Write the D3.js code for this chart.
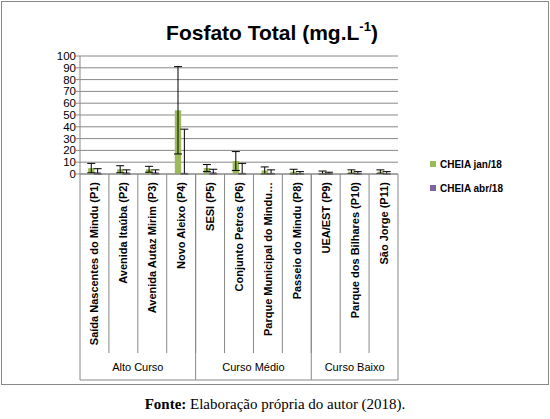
<!DOCTYPE html><html><head><script src="https://cdn.jsdelivr.net/npm/d3@7"></script>
<style>body{margin:0;background:#fff}</style></head><body><svg id="c" width="550" height="419"></svg>
<script>
const categories=["Saída Nascentes do Mindu (P1)","Avenida Itaúba (P2)","Avenida Autaz Mirim (P3)","Novo Aleixo (P4)","SESI (P5)","Conjunto Petros (P6)","Parque Municipal do Mindu…","Passeio do Mindu (P8)","UEA/EST (P9)","Parque dos Bilhares (P10)","São Jorge (P11)"];
const groups=[{name:"Alto Curso",n:4},{name:"Curso Médio",n:4},{name:"Curso Baixo",n:3}];
const jan=[5,4,4,54,5,11,3,2,1,2,2];
const janErr=[4,3,2.5,37,3,8,3,2,1.5,1.5,1.5];
const abr=[1.5,1.5,1.5,1,1.5,1,1,0.5,0.5,1,0.5];
const abrErr=[3,2,2,37,2.5,8,2.5,1.5,1,1,1.5];
const yTicks=d3.range(0,101,10);
const svg=d3.select("#c");
svg.append("rect").attr("x",1.5).attr("y",1.5).attr("width",547).attr("height",383).attr("fill","#fff").attr("stroke","#888");
svg.append("text").attr("x",272).attr("y",40).attr("text-anchor","middle").attr("font-family","Liberation Sans, Arial").attr("font-weight","bold").attr("font-size",21)
 .html('Fosfato Total (mg.L<tspan font-size="13" dy="-9">-1</tspan><tspan dy="9">)</tspan>');
const x0=80,x1=398;
const x=d3.scaleBand().domain(categories).range([x0,x1]);
const y=d3.scaleLinear().domain([0,100]).range([174,56]);
const g=svg.append("g");
yTicks.forEach(t=>{g.append("line").attr("x1",x0).attr("x2",x1).attr("y1",y(t)).attr("y2",y(t)).attr("stroke","#888");
 g.append("text").attr("x",x0-4).attr("y",y(t)+4).attr("text-anchor","end").attr("font-family","Liberation Sans, Arial").attr("font-size",11.5).text(t);
 g.append("line").attr("x1",x0-4).attr("x2",x0).attr("y1",y(t)).attr("y2",y(t)).attr("stroke","#888");});
g.append("line").attr("x1",x0).attr("x2",x0).attr("y1",56).attr("y2",380).attr("stroke","#888");
const bw=x.bandwidth()*0.22;
categories.forEach((c,i)=>{
 const cx=x(c)+x.bandwidth()/2;
 g.append("rect").attr("x",cx-bw).attr("y",y(jan[i])).attr("width",bw).attr("height",y(0)-y(jan[i])).attr("fill","#9bbb59");
 g.append("rect").attr("x",cx).attr("y",y(abr[i])).attr("width",bw).attr("height",y(0)-y(abr[i])).attr("fill","#8064a2");
 [[cx-bw/2,jan[i],janErr[i]],[cx+bw/2,abr[i],abrErr[i]]].forEach(([ex,v,e])=>{
  const lo=y(Math.max(0,v-e)),hi=y(v+e);
  g.append("path").attr("d",`M${ex},${lo}V${hi}M${ex-4},${hi}H${ex+4}M${ex-4},${lo}H${ex+4}`).attr("stroke","#000").attr("fill","none");
 });
 g.append("text").attr("transform",`translate(${cx+4},182) rotate(-90)`).attr("text-anchor","end").attr("font-family","Liberation Sans, Arial").attr("font-weight","bold").attr("font-size",11).text(c);
});
g.append("line").attr("x1",x0).attr("x2",x1).attr("y1",y(0)).attr("y2",y(0)).attr("stroke","#888");
let k=0;
categories.forEach((c,i)=>{ if(i>0) g.append("line").attr("x1",x(c)).attr("x2",x(c)).attr("y1",174).attr("y2",353).attr("stroke","#888");});
groups.forEach(gr=>{
 const a=x(categories[k]),b=k+gr.n<categories.length?x(categories[k+gr.n]):x1;
 g.append("line").attr("x1",b).attr("x2",b).attr("y1",174).attr("y2",380).attr("stroke","#888");
 g.append("text").attr("x",(a+b)/2).attr("y",371).attr("text-anchor","middle").attr("font-family","Liberation Sans, Arial").attr("font-size",11).text(gr.name);
 k+=gr.n;});
g.append("line").attr("x1",x0).attr("x2",x1).attr("y1",380).attr("y2",380).attr("stroke","#888");
[["CHEIA jan/18","#9bbb59",165],["CHEIA abr/18","#8064a2",189]].forEach(([t,c,yy])=>{
 svg.append("rect").attr("x",430).attr("y",yy-4).attr("width",6).attr("height",6).attr("fill",c);
 svg.append("text").attr("x",440).attr("y",yy+3).attr("font-family","Liberation Sans, Arial").attr("font-weight","bold").attr("font-size",10).text(t);});
svg.append("text").attr("x",275).attr("y",409).attr("text-anchor","middle").attr("font-family","Liberation Serif, Times New Roman").attr("font-size",15)
 .html('<tspan font-weight="bold">Fonte:</tspan> Elaboração própria do autor (2018).');
</script></body></html>
